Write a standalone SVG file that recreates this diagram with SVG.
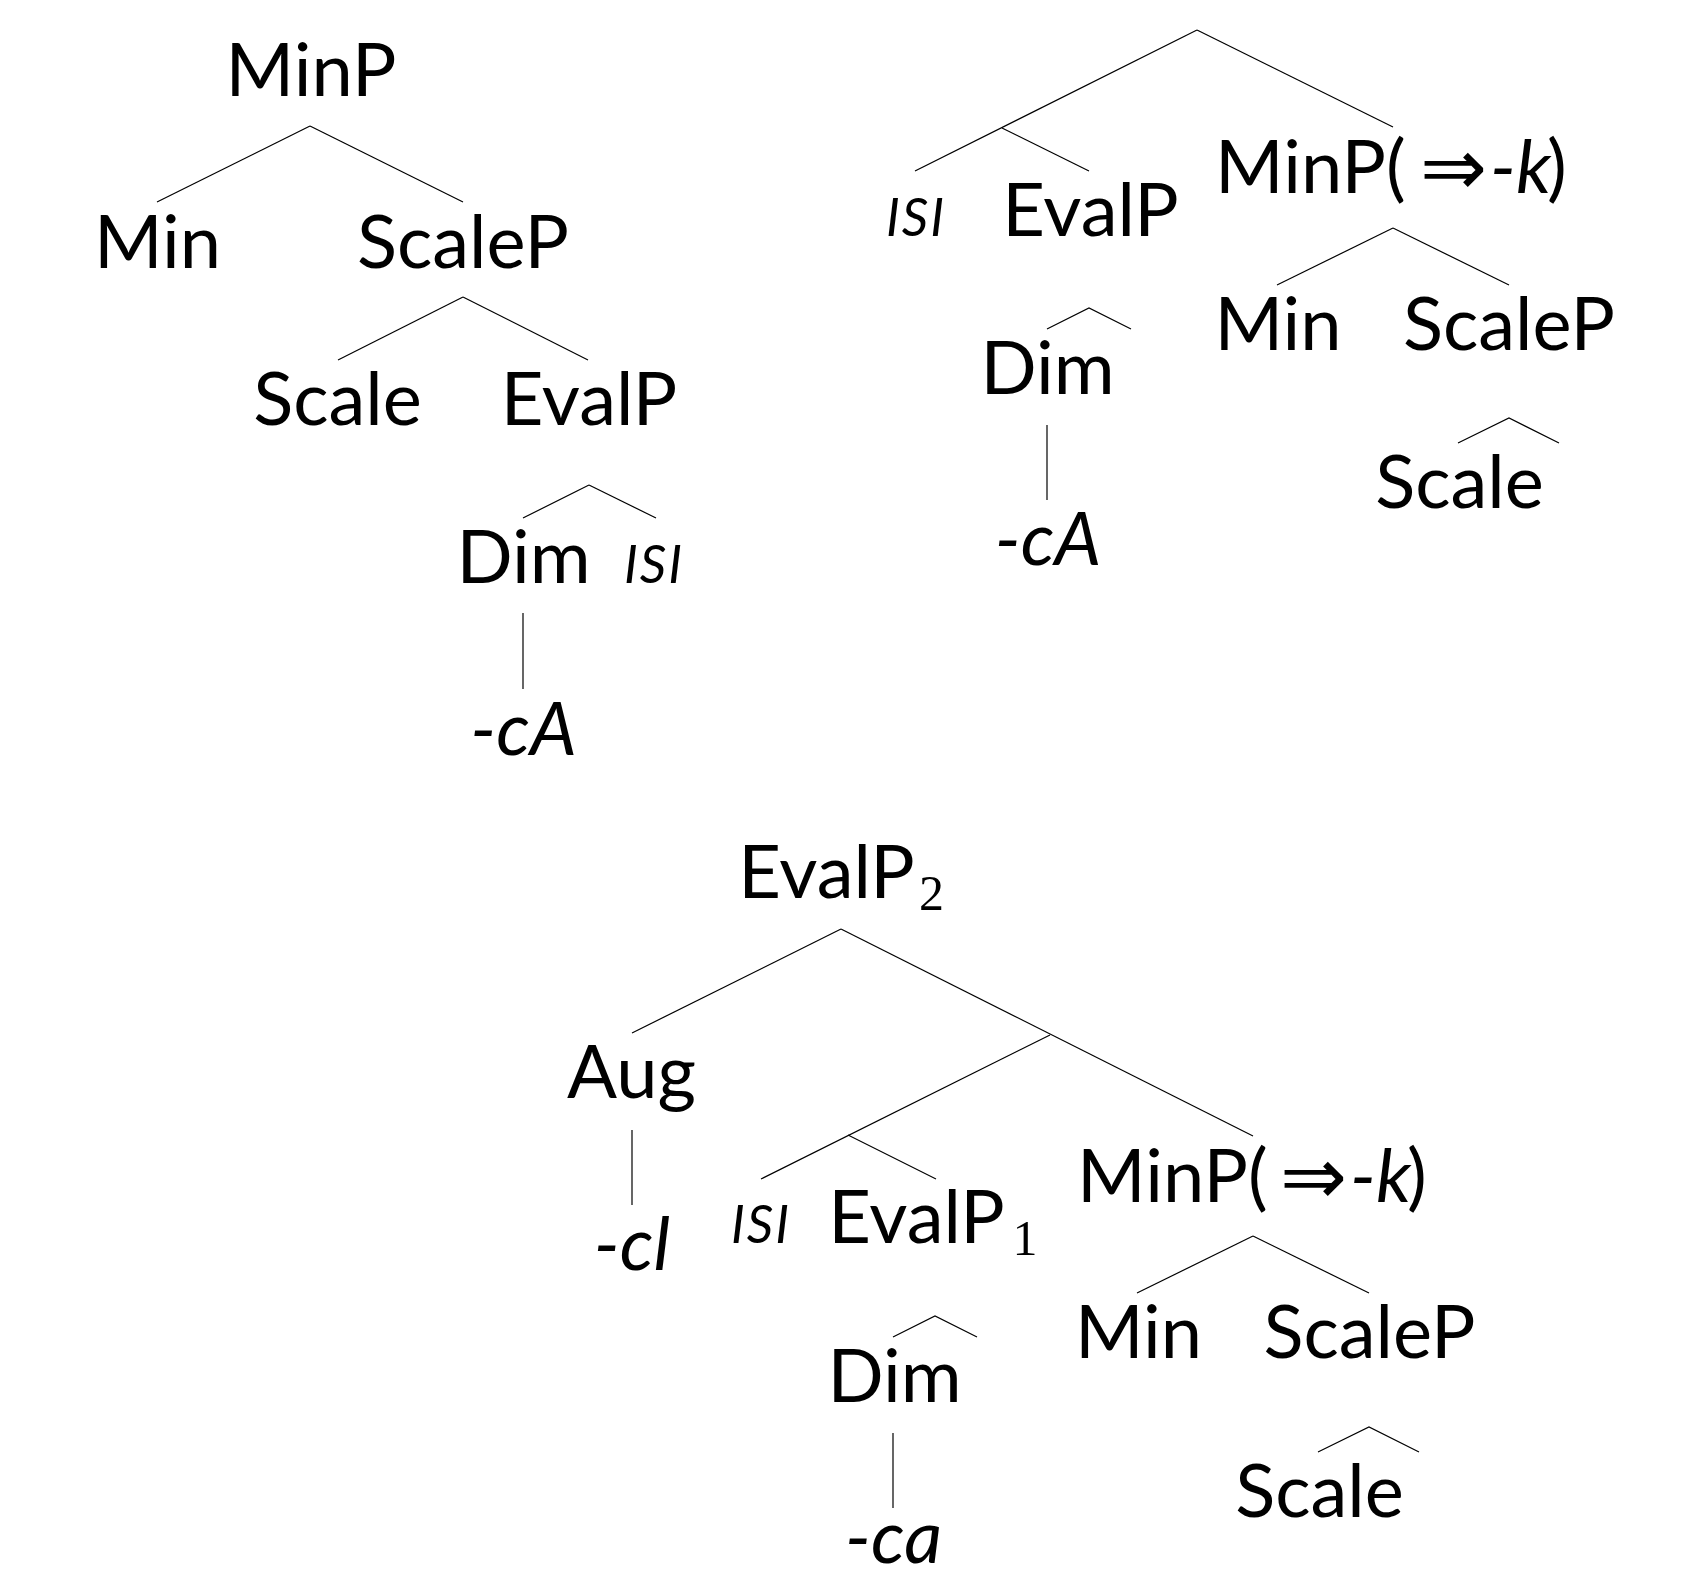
<svg xmlns="http://www.w3.org/2000/svg" width="1682" height="1585" viewBox="0 0 1682 1585">
<style>
text{font-family:Lato,"Noto Sans","DejaVu Sans",sans-serif;font-size:74px;fill:#000}
.m{text-anchor:middle}
.it{font-style:italic}
.sc{font-style:italic;font-size:52px;letter-spacing:2px;text-anchor:middle}
.sub{font-family:"Liberation Serif","DejaVu Serif",serif;font-size:50px;text-anchor:middle}
.arr{font-family:"DejaVu Sans",sans-serif;font-size:80px}
#edges line,#edges polyline{stroke:#000;stroke-width:1.2;fill:none}
</style>
<rect width="1682" height="1585" fill="#fff"/>
<g id="edges">
<!-- tree 1 -->
<line x1="310" y1="126" x2="157" y2="202"/>
<line x1="310" y1="126" x2="463" y2="202"/>
<line x1="463" y1="297" x2="338" y2="360"/>
<line x1="463" y1="297" x2="588" y2="360"/>
<line x1="589" y1="485" x2="523" y2="518"/>
<line x1="589" y1="485" x2="656" y2="518"/>
<line x1="523" y1="613" x2="523" y2="689"/>
<!-- tree 2 -->
<line x1="1197" y1="30" x2="915" y2="171"/>
<line x1="1197" y1="30" x2="1393" y2="127"/>
<line x1="1002" y1="128" x2="1089" y2="171"/>
<polyline points="1047,329 1089,308 1131,329"/>
<line x1="1047" y1="425" x2="1047" y2="500"/>
<line x1="1393" y1="228" x2="1277" y2="285"/>
<line x1="1393" y1="228" x2="1509" y2="285"/>
<polyline points="1458,443 1509,418 1559,443"/>
<!-- tree 3 -->
<line x1="841" y1="929" x2="632" y2="1033"/>
<line x1="841" y1="929" x2="1253" y2="1136"/>
<line x1="1050" y1="1035" x2="761" y2="1179"/>
<line x1="848" y1="1135" x2="936" y2="1179"/>
<line x1="632" y1="1130" x2="632" y2="1205"/>
<polyline points="893,1337 935,1316 977,1337"/>
<line x1="893" y1="1433" x2="893" y2="1508"/>
<line x1="1253" y1="1236" x2="1137" y2="1293"/>
<line x1="1253" y1="1236" x2="1369" y2="1293"/>
<polyline points="1318,1452 1369,1427 1419,1452"/>
</g>
<!-- tree 1 nodes -->
<g id="t1-minp"><text class="m" x="311" y="96">MinP</text></g>
<g id="t1-min"><text class="m" x="157.5" y="268">Min</text></g>
<g id="t1-scalep"><text class="m" x="463" y="268">ScaleP</text></g>
<g id="t1-scale"><text class="m" x="337.5" y="425">Scale</text></g>
<g id="t1-evalp"><text class="m" x="589" y="425">EvalP</text></g>
<g id="t1-dim"><text class="m" x="523.5" y="583">Dim</text></g>
<g id="t1-isi"><text class="sc" x="654" y="583">ISI</text></g>
<g id="t1-ca"><text class="m it" x="523.5" y="755">-cA</text></g>
<!-- tree 2 nodes -->
<g id="t2-isi"><text class="sc" x="916" y="236">ISI</text></g>
<g id="t2-evalp"><text class="m" x="1090.5" y="236">EvalP</text></g>
<g id="t2-minp"><text x="1215" y="193">MinP(<tspan class="arr" x="1420" y="195">⇒</tspan><tspan class="it" x="1490" y="193">-k</tspan><tspan x="1547" y="193">)</tspan></text></g>
<g id="t2-dim"><text class="m" x="1047.5" y="394">Dim</text></g>
<g id="t2-ca"><text class="m it" x="1048" y="565">-cA</text></g>
<g id="t2-min"><text class="m" x="1278" y="350">Min</text></g>
<g id="t2-scalep"><text class="m" x="1509" y="350">ScaleP</text></g>
<g id="t2-scale"><text class="m" x="1459.5" y="508">Scale</text></g>
<!-- tree 3 nodes -->
<g id="t3-evalp2"><text class="m" x="826.5" y="898">EvalP</text><text class="sub" x="931.5" y="910">2</text></g>
<g id="t3-aug"><text class="m" x="631.5" y="1098">Aug</text></g>
<g id="t3-cl"><text class="m it" x="632" y="1270">-cl</text></g>
<g id="t3-isi"><text class="sc" x="761" y="1243">ISI</text></g>
<g id="t3-evalp1"><text class="m" x="916.5" y="1243">EvalP</text><text class="sub" x="1025" y="1255">1</text></g>
<g id="t3-minp"><text x="1077" y="1202">MinP(<tspan class="arr" x="1280" y="1204">⇒</tspan><tspan class="it" x="1350" y="1202">-k</tspan><tspan x="1407" y="1202">)</tspan></text></g>
<g id="t3-min"><text class="m" x="1138.5" y="1358">Min</text></g>
<g id="t3-scalep"><text class="m" x="1369.5" y="1358">ScaleP</text></g>
<g id="t3-scale"><text class="m" x="1319.5" y="1517">Scale</text></g>
<g id="t3-dim"><text class="m" x="894.5" y="1402">Dim</text></g>
<g id="t3-ca"><text class="m it" x="893.5" y="1563">-ca</text></g>
</svg>
